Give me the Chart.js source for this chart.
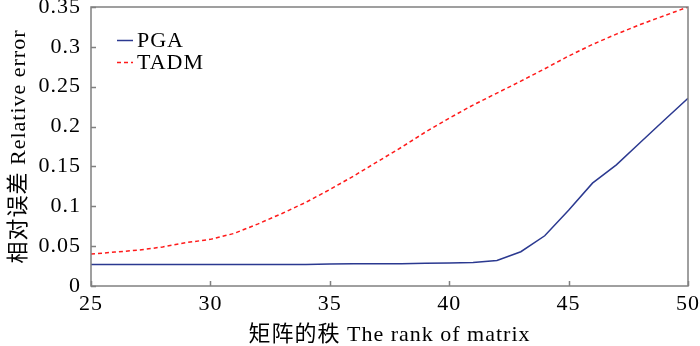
<!DOCTYPE html>
<html>
<head>
<meta charset="utf-8">
<script src="https://cdn.jsdelivr.net/npm/chart.js@4/dist/chart.umd.min.js"></script>
<style>
html,body{margin:0;padding:0;background:#fff;}
#wrap{width:700px;height:346px;position:relative;}
</style>
</head>
<body>
<div id="wrap"><canvas id="c" width="700" height="346"></canvas></div>
<script>
const ranks = [25,26,27,28,29,30,31,32,33,34,35,36,37,38,39,40,41,42,43,44,45,46,47,48,49,50];
const pgaValues = [0.027,0.027,0.027,0.027,0.027,0.027,0.027,0.027,0.027,0.027,0.0275,0.0278,0.028,0.028,0.0285,0.029,0.0295,0.032,0.043,0.063,0.095,0.129,0.152,0.180,0.208,0.2355];
const tadmValues = [0.040,0.0425,0.045,0.049,0.0545,0.0585,0.066,0.078,0.091,0.105,0.121,0.138,0.156,0.174,0.193,0.2105,0.227,0.242,0.257,0.2725,0.2885,0.303,0.316,0.328,0.339,0.350];
const xTickValues = [25,30,35,40,45,50];
const yTickValues = [0,0.05,0.1,0.15,0.2,0.25,0.3,0.35];
const yTickLabels = ['0','0.05','0.1','0.15','0.2','0.25','0.3','0.35'];
const seriesNames = ['PGA','TADM'];
const xTitle = '矩阵的秩 The rank of matrix';
const yTitle = '相对误差 Relative error';

const FONT = "'Liberation Serif','Times New Roman','Noto Sans CJK SC',serif";
const AXIS_COLOR = '#808080';
const BLUE = '#2b3990';
const RED = '#ff1a1a';

const spacing = {
  id: 'spacing',
  beforeDraw(chart) { chart.ctx.letterSpacing = '1px'; }
};

const frameAndTicks = {
  id: 'frameAndTicks',
  afterDatasetsDraw(chart) {
    const {ctx, chartArea: a, scales: {x, y}} = chart;
    ctx.save();
    ctx.strokeStyle = AXIS_COLOR;
    ctx.lineWidth = 1.5;
    ctx.strokeRect(a.left, a.top, a.right - a.left, a.bottom - a.top);
    ctx.beginPath();
    xTickValues.forEach(v => {
      const px = Math.round(x.getPixelForValue(v)) + 0.5;
      ctx.moveTo(px, a.bottom);
      ctx.lineTo(px, a.bottom - 5);
    });
    yTickValues.forEach(v => {
      const py = Math.round(y.getPixelForValue(v)) + 0.5;
      ctx.moveTo(a.left, py);
      ctx.lineTo(a.left + 5, py);
    });
    ctx.stroke();
    // legend
    const items = chart.data.datasets;
    ctx.font = '22px ' + FONT;
    ctx.letterSpacing = '1px';
    ctx.textBaseline = 'middle';
    ctx.fillStyle = '#000';
    const lx = a.left + 26, ly = a.top + 33.5, gap = 22;
    items.forEach((ds, i) => {
      const yy = ly + i * gap;
      ctx.strokeStyle = ds.borderColor;
      ctx.lineWidth = 1.5;
      ctx.setLineDash(ds.borderDash || []);
      ctx.beginPath();
      ctx.moveTo(lx, yy);
      ctx.lineTo(lx + 16, yy);
      ctx.stroke();
      ctx.setLineDash([]);
      ctx.fillText(ds.label, lx + 20, yy + 1);
    });
    ctx.restore();
  }
};

new Chart(document.getElementById('c'), {
  type: 'line',
  data: {
    datasets: [
      {label: seriesNames[0], data: ranks.map((r, i) => ({x: r, y: pgaValues[i]})), borderColor: BLUE, borderWidth: 1.5, pointRadius: 0, tension: 0, fill: false},
      {label: seriesNames[1], data: ranks.map((r, i) => ({x: r, y: tadmValues[i]})), borderColor: RED, borderWidth: 1.5, borderDash: [4, 3], pointRadius: 0, tension: 0, fill: false}
    ]
  },
  options: {
    responsive: false,
    animation: false,
    layout: {padding: {top: 7, right: 12, left: 0, bottom: 0}},
    plugins: {legend: {display: false}, tooltip: {enabled: false}},
    scales: {
      x: {
        type: 'linear', min: 25, max: 50,
        afterBuildTicks(s) { s.ticks = xTickValues.map(v => ({value: v})); },
        afterFit(s) { s.height = 60; s.paddingLeft = 0; s.paddingRight = 0; },
        grid: {display: false, drawTicks: false},
        border: {display: false},
        ticks: {color: '#000', font: {family: FONT, size: 22}, padding: 5, maxRotation: 0, callback: v => String(v)},
        title: {display: true, text: xTitle, color: '#000', font: {family: FONT, size: 22, lineHeight: 1}, padding: {top: 0, bottom: 0}}
      },
      y: {
        type: 'linear', min: 0, max: 0.35,
        afterBuildTicks(s) { s.ticks = yTickValues.map(v => ({value: v})); },
        afterFit(s) { s.width = 91; s.paddingTop = 0; s.paddingBottom = 0; },
        grid: {display: false, drawTicks: false},
        border: {display: false},
        ticks: {color: '#000', font: {family: FONT, size: 22}, padding: 10, callback: (v) => { const i = yTickValues.findIndex(t => Math.abs(t - v) < 1e-9); return i >= 0 ? yTickLabels[i] : ''; }},
        title: {display: true, text: yTitle, color: '#000', font: {family: FONT, size: 22, lineHeight: 1}, padding: {top: 8, bottom: 0}}
      }
    }
  },
  plugins: [spacing, frameAndTicks]
});
</script>
</body>
</html>
